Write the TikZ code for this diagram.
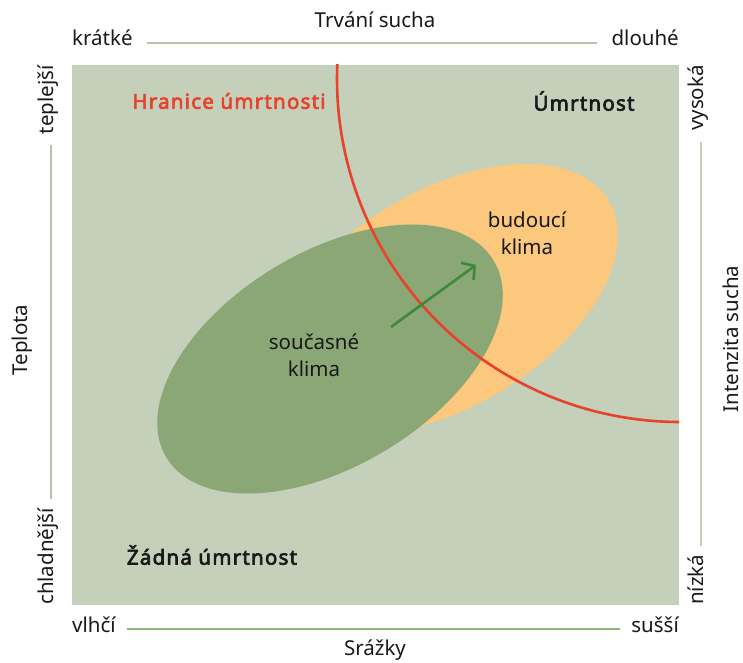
\documentclass[tikz,border=0pt]{standalone}
\usepackage{fontspec}
\setmainfont{Noto Sans}
\newfontfamily\heavyfam{Noto Sans}[FakeBold=3.2, LetterSpace=6]
\usetikzlibrary{arrows.meta}
\definecolor{bgsage}{RGB}{196,208,185}
\definecolor{curgreen}{RGB}{139,167,118}
\definecolor{futorange}{RGB}{251,200,125}
\definecolor{limitred}{RGB}{232,65,44}
\definecolor{arrowgreen}{RGB}{62,138,60}
\definecolor{axisline}{RGB}{180,196,165}
\definecolor{axisgreen}{RGB}{140,183,119}
\definecolor{txt}{RGB}{25,25,25}
\tikzset{
  lbl/.style={font=\fontsize{20.5}{27}\selectfont, text=txt, inner sep=0pt},
  boldlbl/.style={font=\heavyfam\fontsize{20.5}{27}\selectfont, text=txt, inner sep=0pt},
  axln/.style={draw=axisline, line width=1.2pt},
}
\begin{document}
\begin{tikzpicture}[x=1pt,y=1pt]
\useasboundingbox (0,0) rectangle (743,662);
% background square
\fill[bgsage] (72,57) rectangle (679,597);
% ellipses
\fill[futorange, rotate around={31:(445,363)}] (445,363) ellipse [x radius=191, y radius=108];
\fill[curgreen, rotate around={31:(330,303)}] (330,303) ellipse [x radius=191, y radius=107];
% mortality limit
\begin{scope}
\clip (72,57) rectangle (679,597);
\draw[limitred, line width=2.6pt] (680,583) ++(177.5:343) arc[start angle=177.5, end angle=270, radius=343];
\end{scope}
% arrow
\coordinate (arrA) at (391,335);
\coordinate (arrB) at (476,397);
\draw[arrowgreen, line width=2.6pt, -{Straight Barb[length=9pt, width=21pt, line width=2.6pt]}] (arrA) -- (arrB);
% labels inside
\node[boldlbl, text=limitred] (hranice) at (229,561) {Hranice úmrtnosti};
\node[boldlbl] (umrt) at (584,561) {Úmrtnost};
\node[boldlbl] (zadna) at (212,107) {Žádná úmrtnost};
\node[lbl, align=center] (bud) at (527,429) {budoucí\\klima};
\node[lbl, align=center] (soucas) at (314,307) {současné\\klima};
% top axis
\node[lbl] (trvani) at (375,642) {Trvání sucha};
\node[lbl, anchor=mid west] (kratke) at (72,619) {krátké};
\node[lbl, anchor=mid east] (dlouhe) at (679,619) {dlouhé};
\coordinate (tl1) at (147,619);
\coordinate (tl2) at (597,619);
\draw[axln] (tl1) -- (tl2);
% bottom axis
\node[lbl] (srazky) at (375,12) {Srážky};
\node[lbl, anchor=mid west] (vlhci) at (72,32) {vlhčí};
\node[lbl, anchor=mid east] (sussi) at (679,32) {sušší};
\coordinate (bl1) at (127,33);
\coordinate (bl2) at (620,33);
\draw[draw=axisgreen, line width=1.2pt] (bl1) -- (bl2);
% left axis
\node[lbl, rotate=90, anchor=base] (teplota) at (27,322) {Teplota};
\node[lbl, rotate=90, anchor=mid east] (teplejsi) at (51,597) {teplejší};
\node[lbl, rotate=90, anchor=mid west] (chladnejsi) at (51,57) {chladnější};
\draw[axln] ([yshift=-11pt]teplejsi.mid west) -- ([yshift=9pt]chladnejsi.mid east);
% right axis
\node[lbl, rotate=90, anchor=base] (intenzita) at (738,323) {Intenzita sucha};
\node[lbl, rotate=90, anchor=mid east] (vysoka) at (701,597) {vysoká};
\node[lbl, rotate=90, anchor=mid west] (nizka) at (701,57) {nízká};
\draw[draw=axisline!80!white, line width=1.2pt] ([yshift=-11pt]vysoka.mid west) -- ([yshift=9pt]nizka.mid east);
\end{tikzpicture}
\end{document}
